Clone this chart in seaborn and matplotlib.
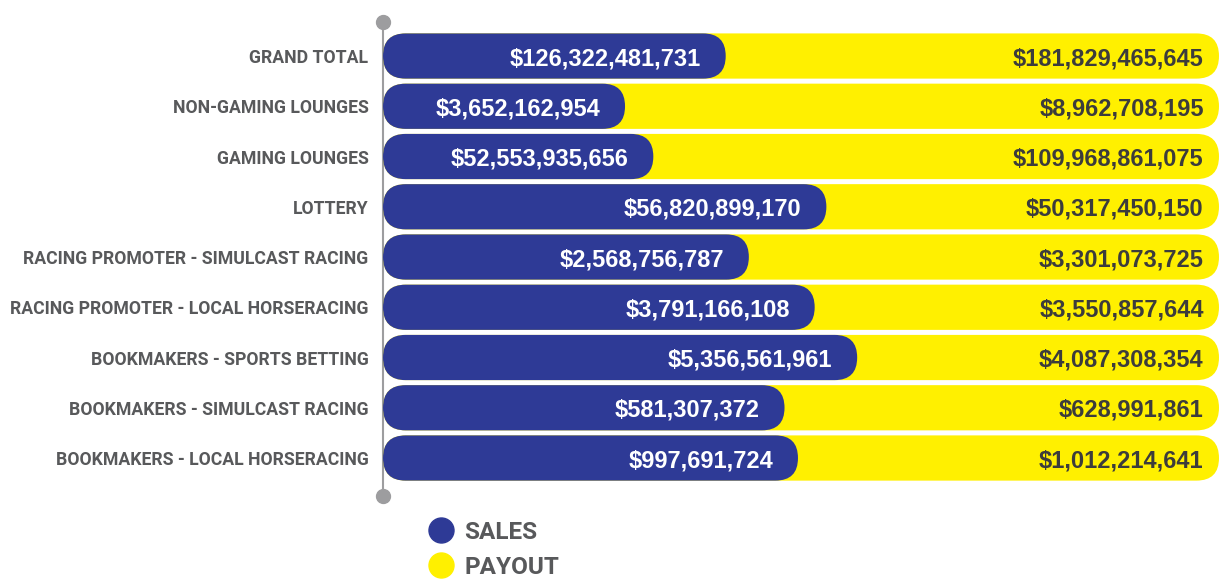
import matplotlib
matplotlib.use("Agg")
import matplotlib.pyplot as plt
import seaborn as sns
import pandas as pd
from matplotlib.patches import FancyBboxPatch, BoxStyle
from matplotlib.lines import Line2D

categories = ["GRAND TOTAL", "NON-GAMING LOUNGES", "GAMING LOUNGES", "LOTTERY",
              "RACING PROMOTER - SIMULCAST RACING", "RACING PROMOTER - LOCAL HORSERACING",
              "BOOKMAKERS - SPORTS BETTING", "BOOKMAKERS - SIMULCAST RACING",
              "BOOKMAKERS - LOCAL HORSERACING"]
sales = [126322481731, 3652162954, 52553935656, 56820899170, 2568756787,
         3791166108, 5356561961, 581307372, 997691724]
payout = [181829465645, 8962708195, 109968861075, 50317450150, 3301073725,
          3550857644, 4087308354, 628991861, 1012214641]

BLUE = "#2e3a96"
YELLOW = "#fff000"
GREY_TXT = "#58595b"
GREY_LINE = "#9d9d9f"

df = pd.DataFrame({"cat": categories, "sales": sales, "payout": payout})
df["total"] = df["sales"] + df["payout"]
df["sales_share"] = df["sales"] / df["total"]
df["full"] = 1.0

sns.set_theme(style="white")
plt.rcParams["font.family"] = ["Roboto", "DejaVu Sans"]

W, H = 1220, 579
fig = plt.figure(figsize=(W / 100, H / 100), dpi=100)
ax_left, ax_right, ax_top, ax_bot = 383, 1219, 22, 496
ax = fig.add_axes([ax_left / W, (H - ax_bot) / H, (ax_right - ax_left) / W, (ax_bot - ax_top) / H])

sns.barplot(data=df, y="cat", x="full", color=YELLOW, width=0.9, orient="h", ax=ax, saturation=1)
sns.barplot(data=df, y="cat", x="sales_share", color=BLUE, width=0.9, orient="h", ax=ax, saturation=1)

ax.set_xlim(0, 1)
ax.set_ylim(8.756, -0.677)

# convert rectangles to rounded pills
sx = 1.0 / (ax_right - ax_left)
sy = (8.756 + 0.677) / (ax_bot - ax_top)
asp = sy / sx
rects = list(ax.patches)
for p in rects:
    x, y, w, h = p.get_x(), p.get_y(), p.get_width(), p.get_height()
    fc = p.get_facecolor()
    p.remove()
    r = (h / 2) / asp
    fp = FancyBboxPatch((x, y), w, h, boxstyle=BoxStyle.Round(pad=0, rounding_size=r),
                        mutation_aspect=asp, facecolor=fc, edgecolor="none", zorder=2)
    ax.add_patch(fp)

# axis line with end dots
ax.plot([0, 0], [-0.677, 8.756], color=GREY_LINE, lw=1.5, clip_on=False, zorder=1,
        marker="o", markersize=10, markevery=[0, 1])

for s in ax.spines.values():
    s.set_visible(False)
ax.set_xticks([])
ax.set_xlabel("")
ax.set_ylabel("")
ax.tick_params(axis="y", length=0, pad=10.5)
ax.set_yticks(range(len(categories)))
ax.set_yticklabels(categories, fontsize=12.7, fontweight="bold", color=GREY_TXT)

val_font = ["Liberation Sans Narrow", "Liberation Sans", "DejaVu Sans"]
for i, row in df.iterrows():
    ax.annotate(f"${row['sales']:,}", xy=(row["sales_share"], i), xytext=(-18, 0),
                textcoords="offset points", ha="right", va="center_baseline",
                fontsize=17, fontweight="bold", color="white", family=val_font, zorder=3)
    ax.annotate(f"${row['payout']:,}", xy=(1, i), xytext=(-11, 0),
                textcoords="offset points", ha="right", va="center_baseline",
                fontsize=17, fontweight="bold", color="#3c3c3c", family=val_font, zorder=3)

handles = [Line2D([], [], marker="o", ls="", markersize=18, color=BLUE),
           Line2D([], [], marker="o", ls="", markersize=18, color=YELLOW)]
leg = fig.legend(handles, ["SALES", "PAYOUT"], loc="upper left",
                 bbox_to_anchor=(418 / W, (H - 511) / H), frameon=False,
                 handletextpad=0.4, labelspacing=0.5, handlelength=1.1,
                 prop={"size": 17.5, "weight": "bold"}, borderaxespad=0)
for t in leg.get_texts():
    t.set_color(GREY_TXT)

fig.savefig("out.png", dpi=100)
